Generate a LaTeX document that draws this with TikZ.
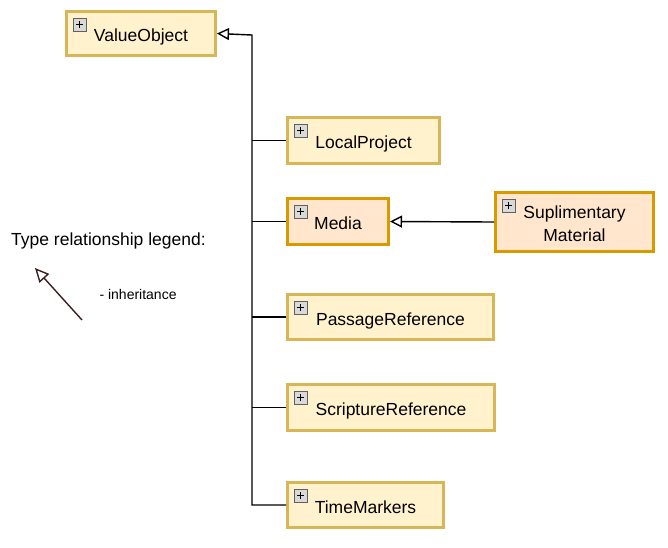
\documentclass[tikz,border=0pt]{standalone}
\usepackage{fontspec}
\setmainfont{Liberation Sans}
\usetikzlibrary{arrows.meta,calc}

\definecolor{clsFill}{HTML}{FFF2CC}
\definecolor{clsDraw}{HTML}{D6B656}
\definecolor{subFill}{HTML}{FFE6CC}
\definecolor{subDraw}{HTML}{D79B00}
\definecolor{legArrow}{HTML}{3C1E1E}

\begin{document}
\begin{tikzpicture}[x=1pt, y=-1pt, >={Triangle[open,length=12pt,width=12pt]},
  cls/.style={draw=clsDraw, fill=clsFill, line width=2.6pt, inner sep=0pt,
    align=center, font=\fontsize{17.5}{23}\selectfont},
  sub/.style={cls, draw=subDraw, fill=subFill},
  oneline/.style={text height=17pt, text depth=0.4pt},
  icon/.style={draw=gray!75!black, fill=gray!30, line width=0.8pt},
  inh/.style={->, line width=1.4pt}]
  % рамка картинки
  \useasboundingbox (0,0) rectangle (668,547);

  % классы
  \node[cls, oneline, minimum width=149.4pt, minimum height=44.4pt] (vo) at (141,33.5) {ValueObject};
  \node[cls, oneline, minimum width=152.4pt, minimum height=46.4pt] (lp) at (363.5,140.5) {LocalProject};
  \node[sub, oneline, minimum width=101.4pt, minimum height=46.4pt] (media) at (338,221.5) {Media};
  \node[sub, minimum width=158.4pt, minimum height=59.4pt] (supl) at (574.5,222) {\rule{0pt}{16pt}Suplimentary\\Material};
  \node[cls, oneline, minimum width=206.4pt, minimum height=45.4pt] (passref) at (390.5,317) {PassageReference};
  \node[cls, oneline, minimum width=207.4pt, minimum height=46.4pt] (scripref) at (391,407.5) {ScriptureReference};
  \node[cls, oneline, minimum width=156.4pt, minimum height=45.4pt] (timem) at (365.5,505) {TimeMarkers};

  % значки "+"
  \foreach \n in {vo,lp,media,supl,passref,scripref,timem} {
    \draw[icon] ($(\n.north west)+(8,8)$) rectangle +(13,13);
    \draw[line width=1.3pt] ($(\n.north west)+(11,14.5)$) -- +(7,0);
    \draw[line width=1.3pt] ($(\n.north west)+(14.5,11)$) -- +(0,7);
  }

  % наследование
  \coordinate (trunk) at (252,35);
  \draw[inh] (timem.west) -| (trunk) -- (vo.east);
  \foreach \n in {lp,media,passref,scripref}
    \draw[line width=1.4pt] (\n.west) -- (\n.west -| trunk);
  \draw[inh] (supl.west) -- (media.east);

  % легенда
  \node[font=\fontsize{17.5}{23}\selectfont] (legend) at (108.5,241) {Type relationship legend:};
  \coordinate (lgtail) at (82,320);
  \coordinate (lghead) at (35,268);
  \draw[line width=1.4pt, legArrow, -{Triangle[open,length=14pt,width=13pt]}] (lgtail) -- (lghead);
  \node[font=\fontsize{14}{17}\selectfont, anchor=west] (inhtxt) at (96,294) {- inheritance};
\end{tikzpicture}
\end{document}
